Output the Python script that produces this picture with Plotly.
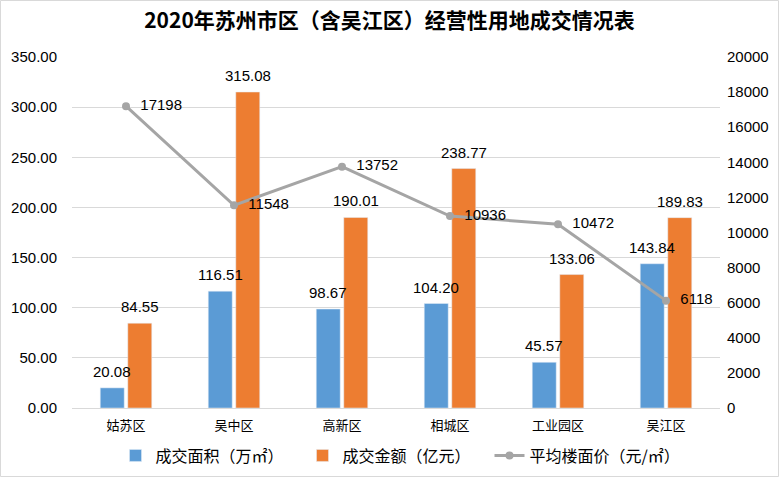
import plotly.graph_objects as go

categories = ["姑苏区", "吴中区", "高新区", "相城区", "工业园区", "吴江区"]
area = [20.08, 116.51, 98.67, 104.20, 45.57, 143.84]
amount = [84.55, 315.08, 190.01, 238.77, 133.06, 189.83]
price = [17198, 11548, 13752, 10936, 10472, 6118]
left_ticks = [0, 50, 100, 150, 200, 250, 300, 350]
right_ticks = list(range(0, 20001, 2000))

FONT = "Liberation Sans, Noto Sans CJK SC, sans-serif"
CJK = "Noto Sans CJK SC, sans-serif"

fig = go.Figure()
fig.add_trace(go.Bar(
    x=categories, y=area, name="成交面积（万㎡）",
    marker_color="#5B9BD5",
))
fig.add_trace(go.Bar(
    x=categories, y=amount, name="成交金额（亿元）",
    marker_color="#ED7D31",
))
fig.add_trace(go.Scatter(
    x=categories, y=price, name="平均楼面价（元/㎡）", yaxis="y2",
    mode="lines+markers+text",
    line=dict(color="#A5A5A5", width=3),
    marker=dict(color="#A5A5A5", size=8),
    text=["  " + str(v) for v in price], textposition="middle right",
    textfont=dict(size=15, color="#000000", family=FONT),
    cliponaxis=False,
))

# bar value labels drawn on top of every bar (as in the reference)
annotations = []
for series, shift in ((area, -13.75), (amount, 13.75)):
    for c, v in zip(categories, series):
        annotations.append(dict(
            x=c, y=v, xref="x", yref="y", text=f"{v:.2f}", showarrow=False,
            xshift=shift, yshift=6, yanchor="bottom", xanchor="center",
            font=dict(size=15, color="#000000", family=FONT)))

fig.update_layout(
    width=779, height=477,
    margin=dict(l=72, r=59, t=57, b=69, autoexpand=False),
    paper_bgcolor="white", plot_bgcolor="white",
    title=dict(text="<b>2020年苏州市区（含吴江区）经营性用地成交情况表</b>",
               x=0.5, xanchor="center", y=0.957, yanchor="middle",
               font=dict(size=21, color="#000000", family=CJK)),
    barmode="group", bargap=0.49, bargroupgap=0.13,
    font=dict(family=FONT, size=14, color="#000000"),
    xaxis=dict(showline=True, linecolor="#D9D9D9", linewidth=1, ticks="",
               ticklabelstandoff=5,
               tickfont=dict(size=13, family=CJK), showgrid=False, automargin=False),
    yaxis=dict(range=[0, 350], tickvals=left_ticks,
               ticktext=[f"{v:.2f}" for v in left_ticks],
               showgrid=True, gridcolor="#D9D9D9", gridwidth=1, zeroline=False,
               ticks="", ticklabelstandoff=14, tickfont=dict(size=15), automargin=False),
    yaxis2=dict(range=[0, 20000], tickvals=right_ticks,
                ticktext=[str(v) for v in right_ticks], overlaying="y", side="right",
                showgrid=False, zeroline=False, ticks="", ticklabelstandoff=6,
                tickfont=dict(size=15), automargin=False),
    legend=dict(orientation="h", x=0.5, xanchor="center",
                yref="container", y=0.045, yanchor="middle",
                font=dict(size=16, family=CJK),
                traceorder="normal", itemwidth=30, entrywidth=142),
    showlegend=True,
    annotations=annotations,
    shapes=[dict(type="rect", xref="paper", yref="paper",
                 x0=-71.5/648, x1=1+58.5/648, y0=-68.5/351, y1=1+56.5/351,
                 line=dict(color="#D9D9D9", width=1))],
)

fig.write_html("out.html", config={"displayModeBar": False},
               post_script="document.body.style.margin='0';document.body.style.overflow='hidden';")
